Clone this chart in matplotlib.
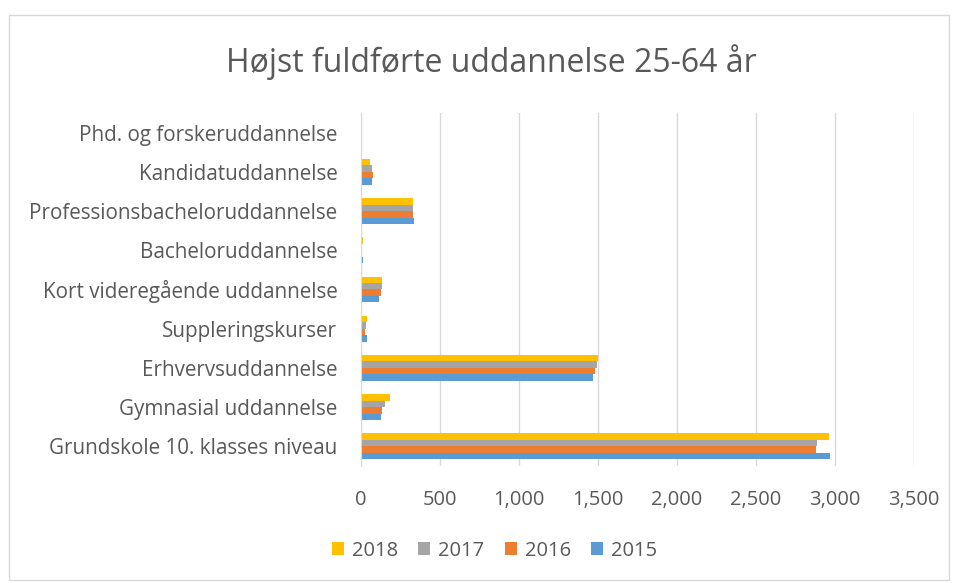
import matplotlib
matplotlib.use("Agg")
import matplotlib.pyplot as plt
import numpy as np
from matplotlib.patches import Rectangle
from matplotlib.ticker import FuncFormatter

categories = ["Grundskole 10. klasses niveau", "Gymnasial uddannelse", "Erhvervsuddannelse",
              "Suppleringskurser", "Kort videregående uddannelse", "Bacheloruddannelse",
              "Professionsbacheloruddannelse", "Kandidatuddannelse", "Phd. og forskeruddannelse"]
v2015 = [2970, 125, 1470, 36, 117, 10, 338, 68, 0]
v2016 = [2879, 134, 1481, 25, 125, 8, 329, 76, 0]
v2017 = [2885, 151, 1494, 34, 134, 8, 329, 68, 0]
v2018 = [2964, 183, 1500, 36, 132, 11, 329, 59, 0]
years = ["2015", "2016", "2017", "2018"]
colors = ["#5B9BD5", "#ED7D31", "#A5A5A5", "#FFC000"]

plt.rcParams['font.family'] = ['Open Sans', 'DejaVu Sans']
fig = plt.figure(figsize=(9.55, 5.83), dpi=100)
ax = fig.add_axes([0.378, 0.2007, 0.579, 0.6055])

y = np.arange(len(categories))
h = 0.165
series = [v2015, v2016, v2017, v2018]
handles = []
for k, (vals, c, lab) in enumerate(zip(series, colors, years)):
    b = ax.barh(y + (k - 1.5) * h, vals, height=h, color=c, label=lab)
    handles.append(b)

ax.set_xlim(0, 3500)
ax.set_ylim(-0.5, len(categories) - 0.5)
ax.set_xticks(np.arange(0, 3501, 500))
ax.xaxis.set_major_formatter(FuncFormatter(lambda v, p: f"{int(v):,}"))
ax.set_yticks(y)
ax.set_yticklabels(categories)
ax.grid(axis='x', color='#D9D9D9', linewidth=1)
ax.set_axisbelow(True)
for s in ['top', 'right', 'bottom']:
    ax.spines[s].set_visible(False)
ax.spines['left'].set_color('#D9D9D9')
ax.tick_params(axis='both', length=0, colors='#595959')
ax.tick_params(axis='x', pad=17, labelsize=14.5)
ax.tick_params(axis='y', pad=17, labelsize=14.9)

fig.text(0.515, 0.893, "Højst fuldførte uddannelse 25-64 år", ha='center', va='center',
         fontsize=23, color='#595959')

leg = fig.legend(handles[::-1], years[::-1], loc='center', bbox_to_anchor=(0.518, 0.055),
                 ncol=4, frameon=False, fontsize=14.5, handlelength=0.6, handleheight=0.6,
                 columnspacing=1.0, handletextpad=0.4)
for t in leg.get_texts():
    t.set_color('#595959')

fig.patches.append(Rectangle((0.009, 0.005), 0.985, 0.97, transform=fig.transFigure,
                             fill=False, edgecolor='#D9D9D9', linewidth=1))

fig.savefig("out.png", dpi=100)
